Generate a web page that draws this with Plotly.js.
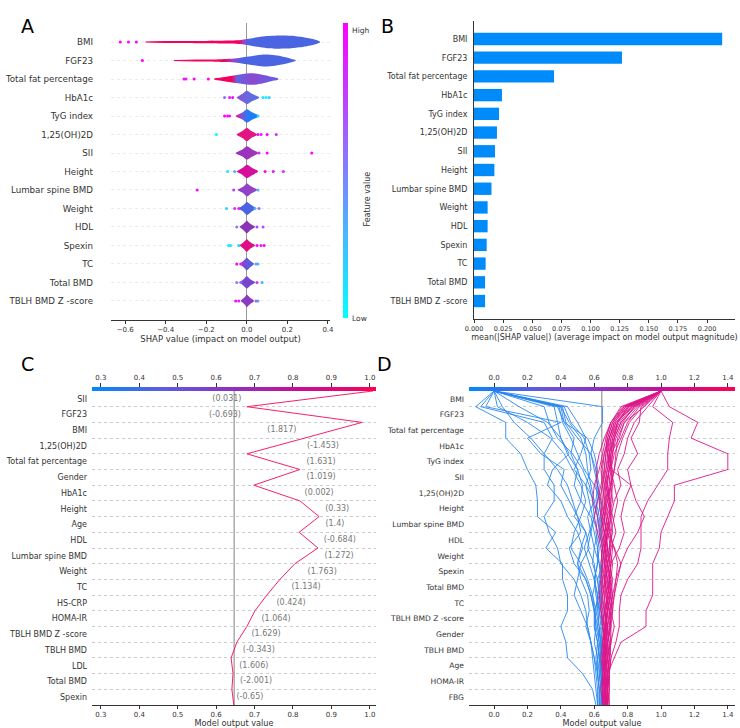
<!DOCTYPE html>
<html>
<head>
<meta charset="utf-8">
<script src="https://cdn.plot.ly/plotly-3.0.1.min.js"></script>
<style>html,body{margin:0;padding:0;background:#fff}#chart{width:740px;height:728px}</style>
</head>
<body>
<div id="chart"></div>
<script>
// ---------- Panel A: SHAP summary (violin) ----------
const featA = ['BMI', 'FGF23', 'Total fat percentage', 'HbA1c', 'TyG index', '1,25(OH)2D', 'SII', 'Height',
  'Lumbar spine BMD', 'Weight', 'HDL', 'Spexin', 'TC', 'Total BMD', 'TBLH BMD Z -score'];

// violin outline: shap value knots and half widths (row units)
const violinX = [
  [-0.50, -0.40, -0.20, -0.08, -0.03, 0.00, 0.05, 0.10, 0.16, 0.22, 0.28, 0.33, 0.36],
  [-0.36, -0.25, -0.15, -0.10, -0.05, 0.00, 0.05, 0.09, 0.14, 0.19, 0.22, 0.24],
  [-0.16, -0.12, -0.08, -0.05, -0.02, 0.02, 0.05, 0.09, 0.12, 0.155],
  [-0.05, -0.02, 0.00, 0.025, 0.06],
  [-0.055, -0.02, 0.00, 0.025, 0.06],
  [-0.05, -0.02, 0.00, 0.02, 0.05],
  [-0.055, -0.02, 0.00, 0.025, 0.055],
  [-0.05, -0.02, 0.00, 0.025, 0.055],
  [-0.045, -0.015, 0.00, 0.02, 0.05],
  [-0.04, -0.015, 0.00, 0.02, 0.045],
  [-0.035, -0.015, 0.00, 0.015, 0.04],
  [-0.035, -0.015, 0.00, 0.015, 0.04],
  [-0.035, -0.015, 0.00, 0.015, 0.035],
  [-0.035, -0.015, 0.00, 0.015, 0.04],
  [-0.03, -0.012, 0.00, 0.015, 0.035]
];
const violinW = [
  [0.03, 0.05, 0.06, 0.08, 0.11, 0.16, 0.26, 0.33, 0.36, 0.34, 0.26, 0.15, 0.03],
  [0.03, 0.05, 0.06, 0.08, 0.12, 0.20, 0.28, 0.32, 0.28, 0.18, 0.09, 0.03],
  [0.04, 0.10, 0.17, 0.22, 0.27, 0.31, 0.29, 0.20, 0.12, 0.03],
  [0.02, 0.22, 0.36, 0.20, 0.02],
  [0.02, 0.20, 0.36, 0.20, 0.02],
  [0.02, 0.20, 0.37, 0.20, 0.02],
  [0.02, 0.20, 0.36, 0.20, 0.02],
  [0.02, 0.20, 0.36, 0.20, 0.02],
  [0.02, 0.20, 0.35, 0.20, 0.02],
  [0.02, 0.20, 0.35, 0.20, 0.02],
  [0.02, 0.19, 0.34, 0.19, 0.02],
  [0.02, 0.19, 0.34, 0.19, 0.02],
  [0.02, 0.19, 0.34, 0.19, 0.02],
  [0.02, 0.19, 0.33, 0.19, 0.02],
  [0.02, 0.18, 0.33, 0.18, 0.02]
];
// colour stops along each violin
const violinCX = [
  [-0.04, -0.015, 0.005], [-0.11, -0.07, -0.025], [-0.075, -0.05, 0.03, 0.11],
  [-0.04, 0.0, 0.05], [-0.05, -0.03, -0.005, 0.02], [-0.05, 0.05], [-0.05, 0.05], [-0.05, 0.05],
  [-0.05, 0.05], [-0.05, 0.05], [-0.05, 0.05], [-0.05, 0.05], [-0.035, -0.015, 0.01], [-0.05, 0.05], [-0.05, 0.05]
];
const violinCC = [
  ['#f5005f', '#9a44c8', '#4b64e1'], ['#f0065f', '#9a44c8', '#4b64e1'], ['#f5005f', '#6462e0', '#8c48d0', '#6c5ade'],
  ['#8a52d0', '#6a66e0', '#5a70e6'], ['#e8157a', '#8a4ccf', '#3a72ee', '#1a7ff5'], ['#e8107e', '#e0168c'],
  ['#9630c0', '#a038b8'], ['#d80c9a', '#d4109c'], ['#9040c8', '#9444c4'], ['#4d60e0', '#4a66e4'],
  ['#8c30b4', '#8a34b8'], ['#e40c82', '#dc1088'], ['#e0207a', '#7a4cd0', '#5a5ade'], ['#7848cc', '#7446cc'], ['#8c38c0', '#8a3cc4']
];
// outlying points: shap value and feature value (0 low .. 1 high)
const dotX = [
  [-0.624, -0.584, -0.545], [-0.515], [-0.31, -0.30, -0.26, -0.19],
  [-0.11, -0.085, -0.07, 0.08, 0.095, 0.11], [-0.11, -0.095, -0.085, 0.055], [-0.15, 0.055, 0.07, 0.10, 0.145],
  [0.06, 0.10, 0.32], [-0.095, -0.06, 0.09, 0.13, 0.18], [-0.245, -0.065, 0.055],
  [-0.10, -0.06, -0.04, 0.04, 0.06], [-0.05, 0.05, 0.08], [-0.09, -0.08, -0.04, 0.05, 0.07, 0.085],
  [-0.05, -0.03, 0.045, 0.055], [-0.05, -0.03, 0.05, 0.075], [-0.055, -0.04, 0.045, 0.055]
];
const dotV = [
  [1, 1, 1], [1], [0.95, 0.9, 1, 1],
  [0.6, 0.9, 0.95, 0.1, 0.05, 0.2], [1, 1, 0.9, 0.2], [0, 1, 0.9, 1, 0.8],
  [0.8, 1, 1], [0.1, 0.3, 1, 0.9, 0.8], [1, 0.8, 0.3],
  [0.2, 0.8, 0.9, 0.3, 0.5], [0.5, 0.8, 0.7], [0.1, 0.05, 0.2, 1, 0.9, 1],
  [1, 0.9, 0.4, 0.3], [0.5, 0.6, 0.8, 0.3], [1, 0.9, 0.6, 0.4]
];

// ---------- Panel B: mean |SHAP| ----------
const featB = featA.slice();
const meanAbs = [0.213, 0.127, 0.0687, 0.024, 0.0215, 0.0197, 0.018, 0.0175, 0.015, 0.0117, 0.0117, 0.0109, 0.010, 0.0095, 0.0095];

// ---------- Panel C: single decision path ----------
const featC = ['SII', 'FGF23', 'BMI', '1,25(OH)2D', 'Total fat percentage', 'Gender', 'HbA1c', 'Height', 'Age', 'HDL',
  'Lumbar spine BMD', 'Weight', 'TC', 'HS-CRP', 'HOMA-IR', 'TBLH BMD Z -score', 'TBLH BMD', 'LDL', 'Total BMD', 'Spexin'];
const valC = ['0.031', '-0.693', '1.817', '-1.453', '1.631', '1.019', '0.002', '0.33', '1.4', '-0.684',
  '1.272', '1.763', '1.134', '0.424', '1.064', '1.629', '-0.343', '1.606', '-2.001', '-0.65'];
const valCX = [0.628, 0.623, 0.771, 0.878, 0.873, 0.873, 0.868, 0.915, 0.909, 0.922,
  0.920, 0.876, 0.834, 0.795, 0.756, 0.730, 0.711, 0.698, 0.704, 0.688];
// cumulative output from top boundary down to base
const pathC = [1.008, 0.680, 0.980, 0.831, 0.680, 0.818, 0.698, 0.818, 0.868, 0.816, 0.865,
  0.805, 0.766, 0.732, 0.701, 0.680, 0.654, 0.639, 0.644, 0.641, 0.646];
const baseC = 0.647;

// ---------- Panel D: many decision paths ----------
const featD = ['BMI', 'FGF23', 'Total fat percentage', 'HbA1c', 'TyG index', 'SII', '1,25(OH)2D', 'Height',
  'Lumbar spine BMD', 'HDL', 'Weight', 'Spexin', 'Total BMD', 'TC', 'TBLH BMD Z -score', 'Gender', 'TBLH BMD', 'Age', 'HOMA-IR', 'FBG'];
const baseD = 0.645;
const pathsLow = [
  [0.00, -0.11, 0.07, 0.07, 0.16, 0.20, 0.25, 0.26, 0.26, 0.37, 0.31, 0.41, 0.41, 0.44, 0.44, 0.40, 0.43, 0.44, 0.53, 0.59, 0.61],
  [0.00, -0.08, 0.30, 0.35, 0.30, 0.30, 0.36, 0.36, 0.30, 0.33, 0.38, 0.40, 0.48, 0.52, 0.55, 0.56, 0.58, 0.60, 0.62, 0.63, 0.63],
  [0.00, -0.05, 0.40, 0.20, 0.28, 0.42, 0.40, 0.45, 0.50, 0.52, 0.45, 0.48, 0.55, 0.58, 0.60, 0.60, 0.62, 0.63, 0.64, 0.65, 0.65],
  [0.00, 0.38, 0.42, 0.48, 0.46, 0.50, 0.53, 0.52, 0.48, 0.55, 0.57, 0.52, 0.50, 0.48, 0.52, 0.56, 0.58, 0.60, 0.61, 0.62, 0.62],
  [0.00, 0.40, 0.45, 0.52, 0.55, 0.56, 0.58, 0.60, 0.56, 0.58, 0.60, 0.59, 0.62, 0.63, 0.60, 0.62, 0.63, 0.64, 0.63, 0.64, 0.64],
  [0.00, 0.36, 0.38, 0.40, 0.44, 0.50, 0.48, 0.52, 0.58, 0.60, 0.62, 0.62, 0.60, 0.61, 0.63, 0.64, 0.62, 0.63, 0.64, 0.65, 0.66],
  [0.00, 0.42, 0.46, 0.54, 0.57, 0.58, 0.55, 0.57, 0.59, 0.62, 0.60, 0.63, 0.64, 0.62, 0.61, 0.63, 0.64, 0.65, 0.64, 0.64, 0.65],
  [0.00, 0.65, 0.65, 0.60, 0.58, 0.60, 0.62, 0.61, 0.63, 0.64, 0.62, 0.63, 0.65, 0.64, 0.63, 0.65, 0.66, 0.65, 0.66, 0.66, 0.66],
  [0.00, 0.05, 0.12, 0.22, 0.30, 0.38, 0.44, 0.47, 0.50, 0.55, 0.52, 0.50, 0.55, 0.58, 0.60, 0.61, 0.60, 0.62, 0.63, 0.64, 0.64],
  [0.00, 0.30, 0.33, 0.38, 0.47, 0.53, 0.57, 0.59, 0.60, 0.58, 0.56, 0.60, 0.61, 0.59, 0.60, 0.61, 0.63, 0.62, 0.62, 0.63, 0.63],
  [0.00, 0.44, 0.50, 0.55, 0.52, 0.48, 0.55, 0.60, 0.62, 0.61, 0.63, 0.62, 0.60, 0.62, 0.63, 0.62, 0.64, 0.63, 0.65, 0.65, 0.65],
  [0.00, 0.40, 0.42, 0.56, 0.60, 0.62, 0.61, 0.63, 0.64, 0.63, 0.65, 0.64, 0.63, 0.64, 0.66, 0.65, 0.64, 0.66, 0.65, 0.66, 0.66],
  [0.00, 0.15, 0.32, 0.40, 0.45, 0.35, 0.32, 0.40, 0.44, 0.50, 0.53, 0.50, 0.52, 0.56, 0.57, 0.55, 0.58, 0.59, 0.60, 0.61, 0.62],
  [0.00, 0.41, 0.43, 0.50, 0.58, 0.61, 0.63, 0.62, 0.60, 0.57, 0.54, 0.57, 0.60, 0.62, 0.62, 0.63, 0.64, 0.64, 0.65, 0.65, 0.66],
  [0.00, 0.39, 0.41, 0.46, 0.50, 0.54, 0.60, 0.64, 0.62, 0.64, 0.66, 0.65, 0.62, 0.63, 0.64, 0.66, 0.65, 0.64, 0.64, 0.65, 0.64],
  [0.00, 0.02, 0.20, 0.34, 0.42, 0.47, 0.52, 0.55, 0.52, 0.48, 0.46, 0.52, 0.56, 0.59, 0.61, 0.60, 0.62, 0.61, 0.62, 0.63, 0.63]
];
const pathsHigh = [
  [1.00, 1.05, 1.22, 1.18, 1.40, 1.40, 1.08, 1.08, 1.04, 1.00, 0.99, 0.95, 0.95, 0.95, 0.91, 0.91, 0.76, 0.72, 0.68, 0.68, 0.68],
  [1.00, 0.95, 1.07, 1.05, 1.04, 1.04, 0.98, 0.92, 0.88, 0.88, 0.88, 0.86, 0.80, 0.76, 0.75, 0.75, 0.73, 0.70, 0.69, 0.68, 0.68],
  [1.00, 0.88, 0.87, 0.82, 0.86, 0.80, 0.82, 0.85, 0.90, 0.86, 0.80, 0.76, 0.73, 0.72, 0.70, 0.72, 0.70, 0.69, 0.68, 0.67, 0.67],
  [1.00, 0.90, 0.78, 0.75, 0.70, 0.70, 0.82, 0.78, 0.76, 0.78, 0.75, 0.70, 0.69, 0.70, 0.68, 0.67, 0.66, 0.67, 0.66, 0.66, 0.66],
  [1.00, 0.82, 0.74, 0.70, 0.68, 0.67, 0.68, 0.67, 0.66, 0.67, 0.68, 0.67, 0.66, 0.67, 0.68, 0.67, 0.66, 0.65, 0.66, 0.65, 0.65],
  [1.00, 0.80, 0.72, 0.69, 0.66, 0.65, 0.66, 0.65, 0.64, 0.66, 0.65, 0.64, 0.66, 0.65, 0.64, 0.65, 0.66, 0.65, 0.65, 0.64, 0.65],
  [1.00, 0.85, 0.76, 0.72, 0.70, 0.68, 0.70, 0.71, 0.69, 0.68, 0.70, 0.69, 0.68, 0.69, 0.67, 0.68, 0.67, 0.68, 0.67, 0.67, 0.67],
  [1.00, 0.78, 0.71, 0.68, 0.67, 0.66, 0.64, 0.62, 0.60, 0.62, 0.64, 0.65, 0.64, 0.66, 0.66, 0.65, 0.67, 0.66, 0.66, 0.66, 0.66],
  [1.00, 0.83, 0.75, 0.71, 0.69, 0.70, 0.69, 0.68, 0.70, 0.71, 0.69, 0.68, 0.70, 0.68, 0.69, 0.70, 0.68, 0.69, 0.68, 0.68, 0.67],
  [1.00, 0.76, 0.70, 0.67, 0.65, 0.63, 0.60, 0.59, 0.62, 0.63, 0.65, 0.66, 0.65, 0.64, 0.65, 0.66, 0.65, 0.66, 0.65, 0.66, 0.65],
  [1.00, 0.87, 0.80, 0.76, 0.72, 0.70, 0.72, 0.74, 0.72, 0.70, 0.71, 0.70, 0.69, 0.70, 0.71, 0.69, 0.70, 0.68, 0.69, 0.68, 0.68],
  [1.00, 0.81, 0.73, 0.70, 0.69, 0.68, 0.66, 0.67, 0.68, 0.66, 0.67, 0.66, 0.67, 0.66, 0.67, 0.66, 0.67, 0.67, 0.66, 0.67, 0.66],
  [1.00, 0.84, 0.77, 0.73, 0.71, 0.69, 0.67, 0.69, 0.67, 0.69, 0.66, 0.68, 0.67, 0.69, 0.66, 0.68, 0.66, 0.66, 0.67, 0.66, 0.66],
  [1.00, 0.79, 0.72, 0.69, 0.68, 0.71, 0.70, 0.68, 0.66, 0.65, 0.67, 0.69, 0.71, 0.70, 0.68, 0.67, 0.68, 0.66, 0.67, 0.67, 0.67],
  [1.00, 0.86, 0.78, 0.74, 0.73, 0.72, 0.70, 0.67, 0.65, 0.68, 0.72, 0.74, 0.73, 0.71, 0.70, 0.69, 0.68, 0.67, 0.68, 0.68, 0.69],
  [1.00, 0.77, 0.70, 0.66, 0.63, 0.61, 0.62, 0.64, 0.66, 0.67, 0.66, 0.65, 0.64, 0.63, 0.64, 0.66, 0.65, 0.64, 0.65, 0.65, 0.65],
  [1.00, 0.92, 0.84, 0.80, 0.78, 0.74, 0.76, 0.72, 0.70, 0.69, 0.72, 0.76, 0.74, 0.72, 0.71, 0.70, 0.70, 0.69, 0.69, 0.69, 0.69],
  [1.00, 0.80, 0.74, 0.71, 0.70, 0.69, 0.68, 0.70, 0.69, 0.67, 0.68, 0.70, 0.69, 0.67, 0.68, 0.67, 0.69, 0.68, 0.67, 0.68, 0.67],
  [1.00, 0.83, 0.73, 0.69, 0.67, 0.66, 0.67, 0.69, 0.70, 0.68, 0.66, 0.67, 0.69, 0.68, 0.66, 0.67, 0.66, 0.67, 0.68, 0.67, 0.67],
  [1.00, 0.79, 0.71, 0.68, 0.66, 0.64, 0.65, 0.66, 0.65, 0.64, 0.66, 0.68, 0.67, 0.65, 0.66, 0.68, 0.67, 0.66, 0.66, 0.66, 0.66],
  [1.00, 0.84, 0.76, 0.72, 0.71, 0.70, 0.71, 0.70, 0.68, 0.70, 0.69, 0.71, 0.70, 0.69, 0.70, 0.68, 0.69, 0.70, 0.69, 0.68, 0.68],
  [1.00, 0.81, 0.74, 0.72, 0.69, 0.67, 0.65, 0.63, 0.64, 0.66, 0.68, 0.67, 0.66, 0.68, 0.67, 0.67, 0.65, 0.66, 0.66, 0.67, 0.66],
  [1.00, 0.78, 0.70, 0.67, 0.68, 0.69, 0.67, 0.66, 0.67, 0.68, 0.67, 0.66, 0.68, 0.67, 0.69, 0.68, 0.67, 0.67, 0.67, 0.66, 0.67],
  [1.00, 0.89, 0.81, 0.77, 0.74, 0.72, 0.70, 0.69, 0.71, 0.73, 0.70, 0.68, 0.70, 0.71, 0.69, 0.70, 0.68, 0.68, 0.69, 0.69, 0.68]
];

// ---------- styling ----------
const FONT = 'DejaVu Sans, sans-serif';
const W = 740, H = 728;
const px = v => v / W;
const py = v => 1 - v / H;
const coolScale = [[0, '#00ffff'], [0.5, '#8080ff'], [1, '#ff00ff']];
const redBlue = [[0, '#008bfb'], [0.25, '#5f5bdf'], [0.5, '#8f2fc0'], [0.75, '#cc0c94'], [1, '#ff0052']];
const gStart = -0.7, gStop = 0.42;

const traces = [];

// violins
featA.forEach((f, i) => {
  const xs = violinX[i], ws = violinW[i];
  const x = xs.concat(xs.slice().reverse());
  const y = ws.map(w => i - w).concat(ws.slice().reverse().map(w => i + w));
  const cs = violinCX[i].map((cx, k) => [(cx - gStart) / (gStop - gStart), violinCC[i][k]]);
  cs.unshift([0, violinCC[i][0]]);
  cs.push([1, violinCC[i][violinCC[i].length - 1]]);
  traces.push({
    type: 'scatter', x: x, y: y, xaxis: 'x', yaxis: 'y', mode: 'lines',
    line: {width: 0, shape: 'spline', smoothing: 0.7}, fill: 'toself',
    fillgradient: {type: 'horizontal', colorscale: cs, start: gStart, stop: gStop},
    hoverinfo: 'skip', showlegend: false
  });
});

// outlying dots
const dx = [], dy = [], dc = [];
dotX.forEach((arr, i) => arr.forEach((v, k) => { dx.push(v); dy.push(i); dc.push(dotV[i][k]); }));
traces.push({
  type: 'scatter', mode: 'markers', x: dx, y: dy, xaxis: 'x', yaxis: 'y',
  marker: {size: 3, color: dc, colorscale: coolScale, cmin: 0, cmax: 1},
  hoverinfo: 'skip', showlegend: false
});

// colour bar for A
traces.push({
  type: 'scatter', mode: 'markers', x: [null], y: [null], xaxis: 'x', yaxis: 'y', showlegend: false, hoverinfo: 'skip',
  marker: {color: [0], colorscale: coolScale, cmin: 0, cmax: 1, showscale: true,
    colorbar: {x: px(343), xanchor: 'left', y: py(318), yanchor: 'bottom', len: 295 / H, lenmode: 'fraction',
      thickness: 5, thicknessmode: 'pixels', outlinewidth: 0, showticklabels: false, ticks: '', xpad: 0, ypad: 0}}
});

// bars
traces.push({
  type: 'bar', orientation: 'h', x: meanAbs, y: featB, xaxis: 'x2', yaxis: 'y2',
  marker: {color: '#008bfb', line: {width: 0}}, width: 0.66, hoverinfo: 'skip', showlegend: false
});

// boundaries for decision plots (top = 20)
const bounds = pathC.map((_, k) => 20 - k);
const rowMid = featC.map((_, k) => 19.5 - k);

traces.push({
  type: 'scatter', mode: 'lines', x: pathC, y: bounds, xaxis: 'x3', yaxis: 'y3',
  line: {color: '#f8206a', width: 1}, hoverinfo: 'skip', showlegend: false
});
traces.push({
  type: 'scatter', mode: 'text', x: valCX, y: rowMid, text: valC.map(v => '(' + v + ')'),
  xaxis: 'x3', yaxis: 'y3', textfont: {family: FONT, size: 8, color: '#777'},
  hoverinfo: 'skip', showlegend: false
});
traces.push({
  type: 'scatter', mode: 'markers', x: [null], y: [null], xaxis: 'x5', yaxis: 'y3', showlegend: false, hoverinfo: 'skip',
  marker: {color: [0], colorscale: redBlue, cmin: 0, cmax: 1, showscale: true,
    colorbar: {orientation: 'h', x: px(234), xanchor: 'center', y: py(391), yanchor: 'bottom', len: 284 / W, lenmode: 'fraction',
      thickness: 4, thicknessmode: 'pixels', outlinewidth: 0, showticklabels: false, ticks: '', xpad: 0, ypad: 0}}
});

pathsLow.forEach(p => traces.push({
  type: 'scatter', mode: 'lines', x: p, y: bounds, xaxis: 'x4', yaxis: 'y4',
  line: {color: '#2a88f0', width: 1}, opacity: 0.9, hoverinfo: 'skip', showlegend: false
}));
pathsHigh.forEach(p => traces.push({
  type: 'scatter', mode: 'lines', x: p, y: bounds, xaxis: 'x4', yaxis: 'y4',
  line: {color: '#dd1689', width: 1}, opacity: 0.9, hoverinfo: 'skip', showlegend: false
}));
traces.push({
  type: 'scatter', mode: 'markers', x: [null], y: [null], xaxis: 'x6', yaxis: 'y4', showlegend: false, hoverinfo: 'skip',
  marker: {color: [0], colorscale: redBlue, cmin: 0, cmax: 1, showscale: true,
    colorbar: {orientation: 'h', x: px(602), xanchor: 'center', y: py(391), yanchor: 'bottom', len: 266 / W, lenmode: 'fraction',
      thickness: 4, thicknessmode: 'pixels', outlinewidth: 0, showticklabels: false, ticks: '', xpad: 0, ypad: 0}}
});

const tick = size => ({family: FONT, size: size, color: '#333'});
const baseX = {showline: true, linecolor: '#333', linewidth: 1, ticks: 'outside', ticklen: 3, tickcolor: '#333',
  showgrid: false, zeroline: false, fixedrange: true};
const dotGrid = {showgrid: true, gridcolor: '#cccccc', griddash: 'dot', gridwidth: 1};

const layout = {
  width: W, height: H, margin: {l: 0, r: 0, t: 0, b: 0},
  paper_bgcolor: '#fff', plot_bgcolor: 'rgba(0,0,0,0)',
  font: {family: FONT, color: '#333'}, showlegend: false,
  xaxis: Object.assign({}, baseX, {
    domain: [px(111), px(330)], anchor: 'y', range: [-0.67, 0.41], tick0: 0, dtick: 0.2, tickformat: '.1f',
    tickfont: tick(7), zeroline: true, zerolinecolor: '#999', zerolinewidth: 1,
    title: {text: 'SHAP value (impact on model output)', font: {family: FONT, size: 8.5, color: '#333'}, standoff: 2}
  }),
  yaxis: {
    domain: [py(320), py(23)], anchor: 'x', range: [15.03, -1.03], tickmode: 'array',
    tickvals: featA.map((_, i) => i), ticktext: featA, tickfont: tick(8.7), ticks: '', ticklabelstandoff: 17,
    showline: false, zeroline: false, showgrid: true, gridcolor: '#ececec', griddash: 'dot', fixedrange: true
  },
  xaxis2: Object.assign({}, baseX, {
    domain: [px(474), px(735)], anchor: 'y2', range: [0, 0.224], tickmode: 'array',
    tickvals: [0, 0.025, 0.05, 0.075, 0.1, 0.125, 0.15, 0.175, 0.2], tickformat: '.3f', tickfont: tick(6.5),
    title: {text: 'mean(|SHAP value|) (average impact on model output magnitude)', font: {family: FONT, size: 8, color: '#333'}, standoff: 2}
  }),
  yaxis2: {
    domain: [py(319), py(21)], anchor: 'x2', type: 'category', range: [14.96, -0.96],
    tickfont: tick(8), ticks: '', ticklabelstandoff: 4, showline: true, linecolor: '#333', linewidth: 1,
    showgrid: false, zeroline: false, fixedrange: true
  },
  xaxis3: Object.assign({}, baseX, {
    domain: [px(92), px(376)], anchor: 'y3', range: [0.277, 1.016], tick0: 0, dtick: 0.1, tickformat: '.1f',
    tickfont: tick(7),
    title: {text: 'Model output value', font: {family: FONT, size: 8.2, color: '#333'}, standoff: 2}
  }),
  xaxis5: {
    overlaying: 'x3', side: 'top', anchor: 'y3', range: [0.277, 1.016], tick0: 0, dtick: 0.1, tickformat: '.1f',
    tickfont: tick(7), ticks: 'outside', ticklen: 7, tickcolor: '#333', showline: false, showgrid: false,
    zeroline: false, fixedrange: true
  },
  yaxis3: {
    domain: [py(705), py(391)], anchor: 'x3', range: [0, 20], tickmode: 'array', tickvals: rowMid, ticktext: featC,
    tickfont: tick(8), ticks: '', ticklabelstandoff: 4, showline: false, zeroline: false, showgrid: false,
    minor: Object.assign({tick0: 0, dtick: 1, ticklen: 0}, dotGrid), fixedrange: true
  },
  xaxis4: Object.assign({}, baseX, {
    domain: [px(469), px(735)], anchor: 'y4', range: [-0.15, 1.443], tick0: 0, dtick: 0.2, tickformat: '.1f',
    tickfont: tick(7),
    title: {text: 'Model output value', font: {family: FONT, size: 8.2, color: '#333'}, standoff: 2}
  }),
  xaxis6: {
    overlaying: 'x4', side: 'top', anchor: 'y4', range: [-0.15, 1.443], tick0: 0, dtick: 0.2, tickformat: '.1f',
    tickfont: tick(7), ticks: 'outside', ticklen: 7, tickcolor: '#333', showline: false, showgrid: false,
    zeroline: false, fixedrange: true
  },
  yaxis4: {
    domain: [py(705), py(391)], anchor: 'x4', range: [0, 20], tickmode: 'array', tickvals: rowMid, ticktext: featD,
    tickfont: tick(7.6), ticks: '', ticklabelstandoff: 4, showline: false, zeroline: false, showgrid: false,
    minor: Object.assign({tick0: 0, dtick: 1, ticklen: 0}, dotGrid), fixedrange: true
  },
  shapes: [
    {type: 'line', xref: 'x3', yref: 'y3', x0: baseC, x1: baseC, y0: 0, y1: 20, line: {color: '#aaa', width: 1.5}, layer: 'below'},
    {type: 'line', xref: 'x4', yref: 'y4', x0: baseD, x1: baseD, y0: 0, y1: 20, line: {color: '#aaa', width: 1.5}, layer: 'below'}
  ],
  annotations: [
    {text: 'A', x: px(19), y: py(13), xref: 'paper', yref: 'paper', showarrow: false, font: {family: FONT, size: 19, color: '#000'}},
    {text: 'B', x: px(387), y: py(13), xref: 'paper', yref: 'paper', showarrow: false, font: {family: FONT, size: 19, color: '#000'}},
    {text: 'C', x: px(19), y: py(364), xref: 'paper', yref: 'paper', showarrow: false, font: {family: FONT, size: 19, color: '#000'}},
    {text: 'D', x: px(384), y: py(364), xref: 'paper', yref: 'paper', showarrow: false, font: {family: FONT, size: 19, color: '#000'}},
    {text: 'High', x: px(350), y: py(24), xref: 'paper', yref: 'paper', xanchor: 'left', showarrow: false, font: {family: FONT, size: 7.5, color: '#333'}},
    {text: 'Low', x: px(350), y: py(318), xref: 'paper', yref: 'paper', xanchor: 'left', showarrow: false, font: {family: FONT, size: 7.5, color: '#333'}},
    {text: 'Feature value', x: px(367), y: py(170), xref: 'paper', yref: 'paper', textangle: -90, showarrow: false, font: {family: FONT, size: 8, color: '#333'}}
  ]
};

Plotly.newPlot('chart', traces, layout, {staticPlot: true, displayModeBar: false});
</script>
</body>
</html>
